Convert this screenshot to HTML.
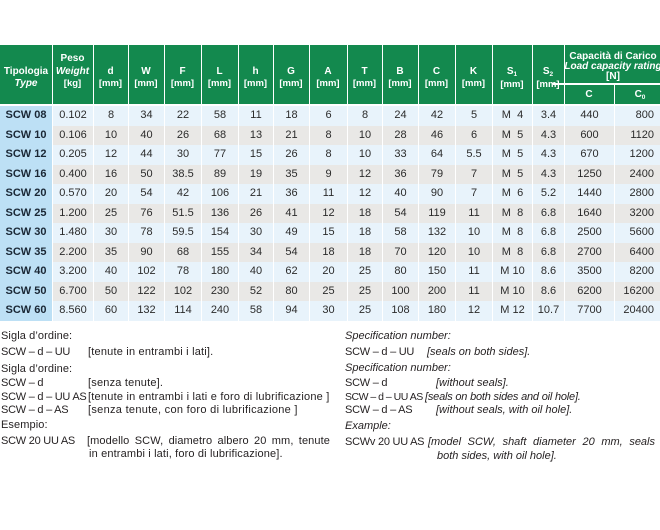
<!DOCTYPE html>
<html><head><meta charset="utf-8">
<style>
*{margin:0;padding:0;box-sizing:border-box}
html,body{width:660px;height:530px;overflow:hidden;background:#fff}
body{position:relative;font-family:"Liberation Sans",sans-serif;color:#231f20}
.hd{position:absolute;left:0;top:45px;width:668px;height:59px;background:#13894e}
.vl{position:absolute;top:45px;height:59px;width:1.5px;background:#fff}
.h{position:absolute;color:#fff;text-align:center;font-size:10px;font-weight:bold;line-height:12px;white-space:nowrap}
.h .m{font-size:9.5px}
.sb{font-size:6.5px;position:relative;top:2px}
.row{position:absolute;left:0;width:668px;height:19.5px;display:flex}
.row div{height:19.5px;line-height:19.5px;text-align:center;font-size:11px;color:#2b2b2b;border-left:1px solid #fff;white-space:nowrap;flex:none}
.row div:nth-child(1){width:52px;border-left:none;background:#bde0f5;font-weight:bold;color:#1a2735}
.row div:nth-child(2){width:41px}
.row div:nth-child(3){width:35px}
.row div:nth-child(4){width:36px}
.row div:nth-child(5){width:37px}
.row div:nth-child(6){width:37px}
.row div:nth-child(7){width:35px}
.row div:nth-child(8){width:36px}
.row div:nth-child(9){width:38px}
.row div:nth-child(10){width:35px}
.row div:nth-child(11){width:36px}
.row div:nth-child(12){width:37px}
.row div:nth-child(13){width:37px}
.row div:nth-child(14){width:40px}
.row div:nth-child(15){width:32px}
.row div:nth-child(16){width:50px}
.row div:nth-child(17){width:54px;text-align:right;padding-right:14px}
.a{background:#e8f3fb}
.b{background:#e9e8e6}
.t{position:absolute;font-size:11px;line-height:13px;white-space:nowrap;color:#231f20;letter-spacing:0.1px}
.l{letter-spacing:-0.25px}
.i{font-style:italic;letter-spacing:0}
.j{text-align:justify;text-align-last:justify;white-space:normal}
</style></head><body>

<div class="hd"></div>
<div class="vl" style="left:51.5px"></div>
<div class="vl" style="left:92.5px"></div>
<div class="vl" style="left:127.5px"></div>
<div class="vl" style="left:163.5px"></div>
<div class="vl" style="left:200.5px"></div>
<div class="vl" style="left:237.5px"></div>
<div class="vl" style="left:272.5px"></div>
<div class="vl" style="left:308.5px"></div>
<div class="vl" style="left:346.5px"></div>
<div class="vl" style="left:381.5px"></div>
<div class="vl" style="left:417.5px"></div>
<div class="vl" style="left:454.5px"></div>
<div class="vl" style="left:491.5px"></div>
<div class="vl" style="left:531.5px"></div>
<div class="vl" style="left:563.5px"></div>
<div style="position:absolute;left:553px;top:83px;width:115px;height:1.5px;background:#fff"></div>
<div style="position:absolute;left:613.5px;top:84px;width:1.5px;height:20px;background:#fff"></div>

<div class="h" style="left:0;width:52px;top:66px">Tipologia<br><i>Type</i></div>
<div class="h" style="left:52px;width:41px;top:53px;line-height:12.5px">Peso<br><i>Weight</i><br><span class="m">[kg]</span></div>
<div class="h" style="left:93px;width:35px;top:66px">d<br><span class="m">[mm]</span></div>
<div class="h" style="left:128px;width:36px;top:66px">W<br><span class="m">[mm]</span></div>
<div class="h" style="left:164px;width:37px;top:66px">F<br><span class="m">[mm]</span></div>
<div class="h" style="left:201px;width:37px;top:66px">L<br><span class="m">[mm]</span></div>
<div class="h" style="left:238px;width:35px;top:66px">h<br><span class="m">[mm]</span></div>
<div class="h" style="left:273px;width:36px;top:66px">G<br><span class="m">[mm]</span></div>
<div class="h" style="left:309px;width:38px;top:66px">A<br><span class="m">[mm]</span></div>
<div class="h" style="left:347px;width:35px;top:66px">T<br><span class="m">[mm]</span></div>
<div class="h" style="left:382px;width:36px;top:66px">B<br><span class="m">[mm]</span></div>
<div class="h" style="left:418px;width:37px;top:66px">C<br><span class="m">[mm]</span></div>
<div class="h" style="left:455px;width:37px;top:66px">K<br><span class="m">[mm]</span></div>
<div class="h" style="left:492px;width:40px;top:65.5px">S<span class="sb">1</span><br><span class="m">[mm]</span></div>
<div class="h" style="left:532px;width:32px;top:66px">S<span class="sb">2</span><br><span class="m">[mm]</span></div>
<div class="h" style="left:562px;width:102px;top:51.5px;line-height:10.2px">Capacità di Carico<br><i>Load capacity rating</i><br>[N]</div>
<div class="h" style="left:564px;width:50px;top:89px">C</div>
<div class="h" style="left:614px;width:52px;top:89px">C<span class="sb">0</span></div>

<div class="row a" style="top:106px"><div>SCW 08</div><div>0.102</div><div>8</div><div>34</div><div>22</div><div>58</div><div>11</div><div>18</div><div>6</div><div>8</div><div>24</div><div>42</div><div>5</div><div>M&nbsp;&nbsp;4</div><div>3.4</div><div>440</div><div>800</div></div>
<div class="row b" style="top:125.5px"><div>SCW 10</div><div>0.106</div><div>10</div><div>40</div><div>26</div><div>68</div><div>13</div><div>21</div><div>8</div><div>10</div><div>28</div><div>46</div><div>6</div><div>M&nbsp;&nbsp;5</div><div>4.3</div><div>600</div><div>1120</div></div>
<div class="row a" style="top:145px"><div>SCW 12</div><div>0.205</div><div>12</div><div>44</div><div>30</div><div>77</div><div>15</div><div>26</div><div>8</div><div>10</div><div>33</div><div>64</div><div>5.5</div><div>M&nbsp;&nbsp;5</div><div>4.3</div><div>670</div><div>1200</div></div>
<div class="row b" style="top:164.5px"><div>SCW 16</div><div>0.400</div><div>16</div><div>50</div><div>38.5</div><div>89</div><div>19</div><div>35</div><div>9</div><div>12</div><div>36</div><div>79</div><div>7</div><div>M&nbsp;&nbsp;5</div><div>4.3</div><div>1250</div><div>2400</div></div>
<div class="row a" style="top:184px"><div>SCW 20</div><div>0.570</div><div>20</div><div>54</div><div>42</div><div>106</div><div>21</div><div>36</div><div>11</div><div>12</div><div>40</div><div>90</div><div>7</div><div>M&nbsp;&nbsp;6</div><div>5.2</div><div>1440</div><div>2800</div></div>
<div class="row b" style="top:203.5px"><div>SCW 25</div><div>1.200</div><div>25</div><div>76</div><div>51.5</div><div>136</div><div>26</div><div>41</div><div>12</div><div>18</div><div>54</div><div>119</div><div>11</div><div>M&nbsp;&nbsp;8</div><div>6.8</div><div>1640</div><div>3200</div></div>
<div class="row a" style="top:223px"><div>SCW 30</div><div>1.480</div><div>30</div><div>78</div><div>59.5</div><div>154</div><div>30</div><div>49</div><div>15</div><div>18</div><div>58</div><div>132</div><div>10</div><div>M&nbsp;&nbsp;8</div><div>6.8</div><div>2500</div><div>5600</div></div>
<div class="row b" style="top:242.5px"><div>SCW 35</div><div>2.200</div><div>35</div><div>90</div><div>68</div><div>155</div><div>34</div><div>54</div><div>18</div><div>18</div><div>70</div><div>120</div><div>10</div><div>M&nbsp;&nbsp;8</div><div>6.8</div><div>2700</div><div>6400</div></div>
<div class="row a" style="top:262px"><div>SCW 40</div><div>3.200</div><div>40</div><div>102</div><div>78</div><div>180</div><div>40</div><div>62</div><div>20</div><div>25</div><div>80</div><div>150</div><div>11</div><div>M 10</div><div>8.6</div><div>3500</div><div>8200</div></div>
<div class="row b" style="top:281.5px"><div>SCW 50</div><div>6.700</div><div>50</div><div>122</div><div>102</div><div>230</div><div>52</div><div>80</div><div>25</div><div>25</div><div>100</div><div>200</div><div>11</div><div>M 10</div><div>8.6</div><div>6200</div><div>16200</div></div>
<div class="row a" style="top:301px"><div>SCW 60</div><div>8.560</div><div>60</div><div>132</div><div>114</div><div>240</div><div>58</div><div>94</div><div>30</div><div>25</div><div>108</div><div>180</div><div>12</div><div>M 12</div><div>10.7</div><div>7700</div><div>20400</div></div>

<!-- Italian -->
<div class="t" style="left:1px;top:329.5px">Sigla d’ordine:</div>
<div class="t l" style="left:1px;top:345.5px">SCW – d – UU</div>
<div class="t" style="left:88px;top:345.5px;letter-spacing:0.2px">[tenute in entrambi i lati].</div>
<div class="t" style="left:1px;top:363px">Sigla d’ordine:</div>
<div class="t l" style="left:1px;top:377px">SCW – d</div>
<div class="t" style="left:88px;top:377px;letter-spacing:0.2px">[senza tenute].</div>
<div class="t l" style="left:1px;top:390.5px">SCW – d – UU AS</div>
<div class="t" style="left:88px;top:390.5px;letter-spacing:0.22px">[tenute in entrambi i lati e foro di lubrificazione ]</div>
<div class="t l" style="left:1px;top:404px">SCW – d – AS</div>
<div class="t" style="left:88px;top:404px;letter-spacing:0.3px">[senza tenute, con foro di lubrificazione ]</div>
<div class="t" style="left:1px;top:418.5px">Esempio:</div>
<div class="t l" style="left:1px;top:434.5px">SCW 20 UU AS</div>
<div class="t j" style="left:87px;top:434.5px;width:243px">[modello SCW, diametro albero 20 mm, tenute</div>
<div class="t" style="left:89px;top:448px;letter-spacing:0.15px">in entrambi i lati, foro di lubrificazione].</div>

<!-- English -->
<div class="t i" style="left:345px;top:329.5px">Specification number:</div>
<div class="t l" style="left:345px;top:345.5px">SCW – d – UU</div>
<div class="t i" style="left:427px;top:345.5px">[seals on both sides].</div>
<div class="t i" style="left:345px;top:362px">Specification number:</div>
<div class="t l" style="left:345px;top:377px">SCW – d</div>
<div class="t i" style="left:436px;top:377px">[without seals].</div>
<div class="t" style="left:345px;top:390.5px;font-size:10.5px;letter-spacing:-0.5px">SCW – d – UU AS</div>
<div class="t i" style="left:425px;top:390.5px;letter-spacing:-0.2px">[seals on both sides and oil hole].</div>
<div class="t l" style="left:345px;top:404px">SCW – d – AS</div>
<div class="t i" style="left:436px;top:404px">[without seals, with oil hole].</div>
<div class="t i" style="left:345px;top:419.5px">Example:</div>
<div class="t l" style="left:345px;top:435.5px">SCWv 20 UU AS</div>
<div class="t i j" style="left:428px;top:435.5px;width:227px">[model SCW, shaft diameter 20 mm, seals</div>
<div class="t i" style="left:437px;top:449.5px">both sides, with oil hole].</div>

</body></html>
